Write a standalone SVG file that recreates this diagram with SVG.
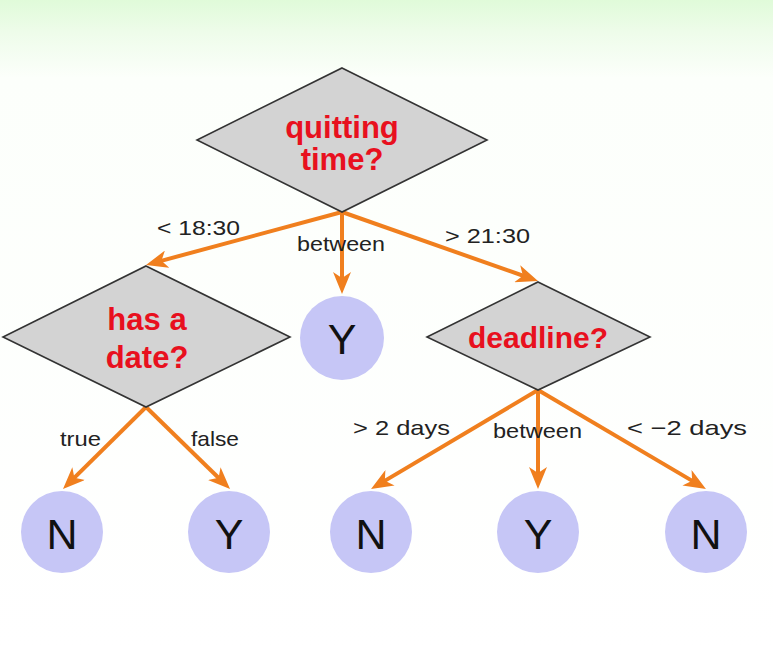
<svg xmlns="http://www.w3.org/2000/svg" width="773" height="650" viewBox="0 0 773 650">
<defs>
<linearGradient id="bg" x1="0" y1="0" x2="0" y2="1">
<stop offset="0" stop-color="#e0fbd9"/>
<stop offset="0.05" stop-color="#eefcea"/>
<stop offset="0.12" stop-color="#fcfffb"/>
<stop offset="1" stop-color="#ffffff"/>
</linearGradient>
<marker id="ah" viewBox="0 0 22 18" refX="13" refY="9" markerWidth="22" markerHeight="18" markerUnits="userSpaceOnUse" orient="auto">
<path d="M0,0 L22,9 L0,18 L6,9 z" fill="#f07f1e"/>
</marker>
</defs>
<style>
.dia{fill:#d3d3d3;stroke:#333;stroke-width:1.6}
.q{font-family:"Liberation Sans",Arial,sans-serif;font-weight:bold;fill:#e8101e;text-anchor:middle}
.leaf{fill:#c6c6f6}
.lt{font-family:"Liberation Sans",Arial,sans-serif;font-size:43px;fill:#111;text-anchor:middle}
.lab{font-family:"Liberation Sans",Arial,sans-serif;font-size:21px;fill:#222}
.e{stroke:#f07f1e;stroke-width:4;fill:none;marker-end:url(#ah)}
</style>
<rect width="773" height="650" fill="url(#bg)"/>
<g id="connectors">
<line class="e" x1="342" y1="212" x2="154.7" y2="262.6"/>
<line class="e" x1="342" y1="212" x2="342" y2="285"/>
<line class="e" x1="342" y1="212" x2="529.5" y2="278"/>
<line class="e" x1="146" y1="407" x2="69.4" y2="482.7"/>
<line class="e" x1="146" y1="407" x2="223.6" y2="482.7"/>
<line class="e" x1="538" y1="390" x2="378.8" y2="484.4"/>
<line class="e" x1="538" y1="390" x2="538" y2="480"/>
<line class="e" x1="538" y1="390" x2="698.2" y2="484.4"/>
<text class="lab" x="157" y="235" textLength="83" lengthAdjust="spacingAndGlyphs">&lt; 18:30</text>
<text class="lab" x="297" y="251" textLength="88" lengthAdjust="spacingAndGlyphs">between</text>
<text class="lab" x="445" y="243" textLength="85" lengthAdjust="spacingAndGlyphs">&gt; 21:30</text>
<text class="lab" x="60" y="446" textLength="41" lengthAdjust="spacingAndGlyphs">true</text>
<text class="lab" x="191" y="446" textLength="48" lengthAdjust="spacingAndGlyphs">false</text>
<text class="lab" x="353" y="435" textLength="97" lengthAdjust="spacingAndGlyphs">&gt; 2 days</text>
<text class="lab" x="493" y="438" textLength="89" lengthAdjust="spacingAndGlyphs">between</text>
<text class="lab" x="627" y="435" textLength="120" lengthAdjust="spacingAndGlyphs">&lt; −2 days</text>
</g>
<g id="quitting">
<polygon class="dia" points="342,68 487,140 342,212 197,140"/>
<text class="q" x="342" y="138" font-size="31">quitting</text>
<text class="q" x="342" y="170" font-size="31">time?</text>
</g>
<g id="hasdate">
<polygon class="dia" points="146,266 290,337 146,407 3,337"/>
<text class="q" x="147" y="330" font-size="31">has a</text>
<text class="q" x="147" y="368" font-size="31">date?</text>
</g>
<g id="deadline">
<polygon class="dia" points="538,282 650,337 538,390 427,337"/>
<text class="q" x="538" y="348" font-size="30">deadline?</text>
</g>
<g id="y1"><circle class="leaf" cx="342" cy="338" r="42"/><text class="lt" x="342" y="354">Y</text></g>
<g id="n1"><circle class="leaf" cx="62" cy="532" r="41"/><text class="lt" x="62" y="549">N</text></g>
<g id="y2"><circle class="leaf" cx="229" cy="532" r="41"/><text class="lt" x="229" y="549">Y</text></g>
<g id="n2"><circle class="leaf" cx="371" cy="532" r="41"/><text class="lt" x="371" y="549">N</text></g>
<g id="y3"><circle class="leaf" cx="538" cy="532" r="41"/><text class="lt" x="538" y="549">Y</text></g>
<g id="n3"><circle class="leaf" cx="706" cy="532" r="41"/><text class="lt" x="706" y="549">N</text></g>
</svg>
